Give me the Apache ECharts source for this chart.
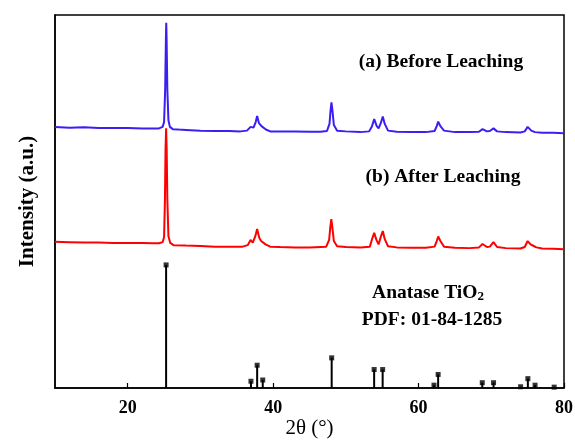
<!DOCTYPE html>
<html>
<head>
<meta charset="utf-8">
<script src="https://cdn.jsdelivr.net/npm/echarts@6/dist/echarts.min.js"></script>
<style>html,body{margin:0;padding:0;background:#fff;}#c{width:575px;height:440px;}</style>
</head>
<body>
<div id="c"></div>
<script>
// (a) Before Leaching: 2θ and intensity (a.u.)
const twoThetaA = [10,12,14,16,18,20,22,23.5,24.3,24.8,25.0,25.15,25.25,25.3,25.35,25.45,25.6,25.8,26.2,27,28,30,32,34,35.5,36.4,36.9,37.3,37.6,37.8,38.05,38.4,38.6,39.0,39.6,41,43,45,46.5,47.4,47.75,47.9,48.02,48.15,48.35,48.8,50,52,53.2,53.6,53.9,54.25,54.5,54.8,55.08,55.35,55.8,57,59,61,62.2,62.5,62.7,63.0,63.5,65,67,68.3,68.8,69.4,69.8,70.3,70.8,72,74,74.6,75.0,75.5,76,77,78.5,80];
const intensityA = [20,18,19,17,17,17,16,16,16,20,33,119,253,299,253,119,38,20,14,13,12,10,9,9,8,10,20,18,33,49,30,22,23,13,8,8,8,7,7,9,28,65,86,65,25,10,8,6,8,22,41,22,16,30,48,28,10,7,6,6,9,22,34,22,10,6,6,7,14,8,9,16,8,6,5,8,20,10,6,4,4,3];
// (b) After Leaching
const twoThetaB = [10,12,14,16,18,20,22,23.5,24.3,24.8,25.0,25.12,25.2,25.28,25.36,25.45,25.6,25.85,26.3,28,30,32,34,35.8,36.5,36.9,37.2,37.55,37.8,38.1,38.35,38.6,38.95,39.6,41,43,45,47.3,47.7,47.85,48.0,48.15,48.35,48.8,50,52,53.3,53.65,53.9,54.2,54.5,54.8,55.08,55.35,55.8,57,59,61,62.2,62.5,62.7,63.0,63.5,65,67,68.3,68.8,69.4,69.8,70.3,70.8,72,74,74.6,75.0,75.4,75.7,76.2,77,78.5,80];
const intensityB = [22,21,20,20,19,19,19,18,18,21,35,135,268,326,268,135,37,19,13,12,11,9,9,9,13,27,20,37,56,32,24,29,15,9,8,7,7,9,27,59,83,59,24,10,8,7,9,32,46,27,15,35,51,29,10,7,6,6,9,24,36,24,9,6,5,7,16,8,9,21,8,5,4,8,24,15,12,7,4,3,2];
// Anatase TiO2 reference pattern, PDF 01-84-1285 (relative intensity, %)
const stickPos = [25.28,36.95,37.80,38.57,48.05,53.89,55.06,62.12,62.69,68.76,70.31,74.03,75.03,76.02,78.65];
const stickRel = [100,5.5,18.5,6.5,24.5,15,15,2.3,11,4.3,4.3,1,7.6,2.3,0.7];
const xTicks = [20,40,60,80];

const offsetA = 680, offsetB = 370, stickScale = 3.3;
const serif = '"Liberation Serif","Times New Roman",serif';

const dataA = twoThetaA.map((x,i)=>[x, intensityA[i]+offsetA]);
const dataB = twoThetaB.map((x,i)=>[x, intensityB[i]+offsetB]);
const sticks = stickPos.map((x,i)=>[x, stickRel[i]*stickScale]);

const chart = echarts.init(document.getElementById('c'), null, {renderer:'canvas'});
chart.setOption({
  animation:false,
  grid:{left:55,right:11,top:15,bottom:52,containLabel:false,outerBoundsMode:'none',show:true,borderColor:'#000',borderWidth:1.5,backgroundColor:'transparent'},
  xAxis:{type:'value',min:10,max:80,
    axisLine:{show:true,lineStyle:{color:'#000',width:1.5}},
    axisTick:{show:true,inside:true,length:5,customValues:xTicks,lineStyle:{color:'#000',width:1.2}},
    axisLabel:{customValues:xTicks,color:'#000',fontFamily:serif,fontWeight:'bold',fontSize:18,margin:11},
    splitLine:{show:false},
    name:'2θ (°)',nameLocation:'middle',nameGap:30,nameMoveOverlap:false,
    nameTextStyle:{color:'#000',fontFamily:serif,fontSize:21}
  },
  yAxis:{type:'value',min:0,max:1000,
    axisLine:{show:true,lineStyle:{color:'#000',width:1.5}},
    axisTick:{show:false},axisLabel:{show:false},splitLine:{show:false},
    name:'Intensity (a.u.)',nameLocation:'middle',nameGap:17,nameMoveOverlap:false,
    nameTextStyle:{color:'#000',fontFamily:serif,fontWeight:'bold',fontSize:21}
  },
  series:[
    {type:'line',data:dataA,showSymbol:false,symbol:'none',lineStyle:{color:'#3a1ef2',width:2},z:3},
    {type:'line',data:dataB,showSymbol:false,symbol:'none',lineStyle:{color:'#ff0000',width:2},z:4},
    {type:'bar',data:sticks,barWidth:2,itemStyle:{color:'#000'},z:2},
    {type:'scatter',data:sticks,symbol:'rect',symbolSize:5,itemStyle:{color:'#000'},z:2}
  ],
  graphic:[
    {type:'text',x:441,y:62,style:{text:'(a) Before Leaching',fill:'#000',font:'bold 19.5px '+serif,textAlign:'center',textVerticalAlign:'middle'}},
    {type:'text',x:443,y:177,style:{text:'(b) After Leaching',fill:'#000',font:'bold 19.5px '+serif,textAlign:'center',textVerticalAlign:'middle'}},
    {type:'text',x:428,y:292,style:{text:'{n|Anatase TiO}{s|2}',textAlign:'center',textVerticalAlign:'middle',
      rich:{n:{fill:'#000',fontFamily:serif,fontWeight:'bold',fontSize:19.5,lineHeight:22,verticalAlign:'bottom'},
            s:{fill:'#000',fontFamily:serif,fontWeight:'bold',fontSize:13,lineHeight:22,verticalAlign:'bottom',padding:[10,0,0,0]}}}},
    {type:'text',x:432,y:320,style:{text:'PDF: 01-84-1285',fill:'#000',font:'bold 19.5px '+serif,textAlign:'center',textVerticalAlign:'middle'}}
  ]
});
</script>
</body>
</html>
